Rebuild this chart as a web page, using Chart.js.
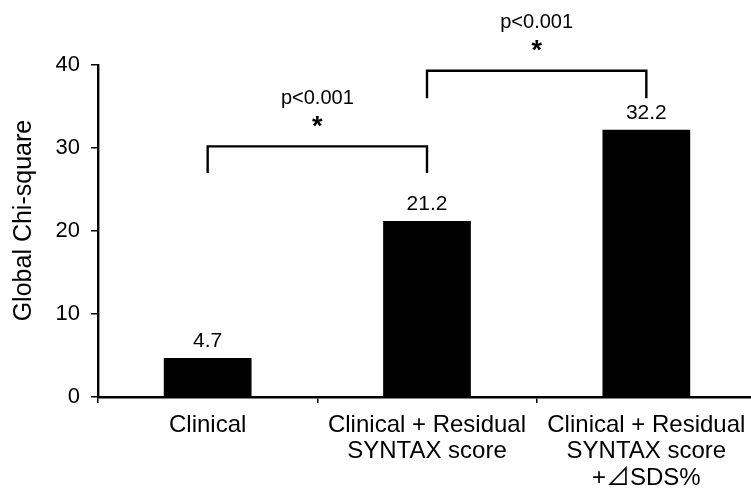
<!DOCTYPE html>
<html>
<head>
<meta charset="utf-8">
<script src="https://cdn.jsdelivr.net/npm/chart.js@4.4.1/dist/chart.umd.min.js"></script>
<style>
html,body{margin:0;padding:0;background:#fff;overflow:hidden;}
#wrap{width:760px;height:493px;position:relative;}
</style>
</head>
<body>
<div id="wrap"><canvas id="c"></canvas></div>
<script>
const categories = [["Clinical"], ["Clinical + Residual", "SYNTAX score"], ["Clinical + Residual", "SYNTAX score", "+\u22BFSDS%"]];
const values = [4.7, 21.2, 32.2];
const yTicks = [0, 10, 20, 30, 40];
const yTitle = "   Global Chi-square";
// significance brackets: from category index, to category index, top value, leg bottom value, label
const bracketFrom = [0, 1];
const bracketTo = [1, 2];
const bracketTop = [30.2, 39.3];
const bracketLeg = [27.0, 36.0];
const bracketLabels = ["p<0.001", "p<0.001"];

const FONT = "'Liberation Sans', Arial, 'Noto Sans CJK JP', sans-serif";

const annot = {
  id: 'annot',
  afterDatasetsDraw(chart) {
    const ctx = chart.ctx;
    const xs = chart.scales.x, ys = chart.scales.y;
    ctx.save();
    ctx.fillStyle = '#000';
    ctx.font = '21px ' + FONT;
    ctx.textAlign = 'center';
    ctx.textBaseline = 'middle';
    const meta = chart.getDatasetMeta(0);
    meta.data.forEach((bar, i) => {
      ctx.fillText(String(values[i]), bar.x, ys.getPixelForValue(values[i]) - 17);
    });
    ctx.strokeStyle = '#000';
    ctx.lineWidth = 2.4;
    ctx.lineJoin = 'miter';
    for (let k = 0; k < bracketFrom.length; k++) {
      const x1 = xs.getPixelForValue(bracketFrom[k]);
      const x2 = xs.getPixelForValue(bracketTo[k]);
      const yt = ys.getPixelForValue(bracketTop[k]);
      const yl = ys.getPixelForValue(bracketLeg[k]);
      ctx.beginPath();
      ctx.moveTo(x1, yl);
      ctx.lineTo(x1, yt);
      ctx.lineTo(x2, yt);
      ctx.lineTo(x2, yl);
      ctx.stroke();
      const xm = (x1 + x2) / 2;
      ctx.font = '20px ' + FONT;
      ctx.fillText(bracketLabels[k], xm, yt - 48);
      ctx.font = 'bold 27px ' + FONT;
      ctx.fillText('*', xm, yt - 19);
    }
    ctx.restore();
  }
};

new Chart(document.getElementById('c'), {
  type: 'bar',
  data: {
    labels: categories,
    datasets: [{
      data: values,
      backgroundColor: '#000',
      borderWidth: 0,
      categoryPercentage: 0.8,
      barPercentage: 0.5
    }]
  },
  options: {
    responsive: true,
    maintainAspectRatio: false,
    animation: false,
    layout: { padding: { top: 65, right: 4, left: 0, bottom: 0 } },
    plugins: { legend: { display: false }, tooltip: { enabled: false } },
    scales: {
      x: {
        offset: true,
        grid: { display: true, drawOnChartArea: false, offset: true, drawTicks: true, tickLength: 6, color: '#000', lineWidth: 1.5 },
        border: { display: true, color: '#000', width: 2.4 },
        ticks: { color: '#000', font: { family: FONT, size: 24, lineHeight: 1.1 }, padding: 9, maxRotation: 0, autoSkip: false },
        afterFit(s) { s.height = 96; }
      },
      y: {
        min: 0, max: 40,
        afterBuildTicks(s) { s.ticks = yTicks.map(v => ({ value: v })); },
        grid: { display: true, drawOnChartArea: false, drawTicks: true, tickLength: 7, color: '#000', lineWidth: 1.5 },
        border: { display: true, color: '#000', width: 2.4 },
        ticks: { color: '#000', font: { family: FONT, size: 22 }, padding: 11 },
        title: { display: true, text: yTitle, color: '#000', font: { family: FONT, size: 25 }, padding: { top: 9, bottom: 4 } },
        afterFit(s) { s.width = 98; }
      }
    }
  },
  plugins: [annot]
});
</script>
</body>
</html>
